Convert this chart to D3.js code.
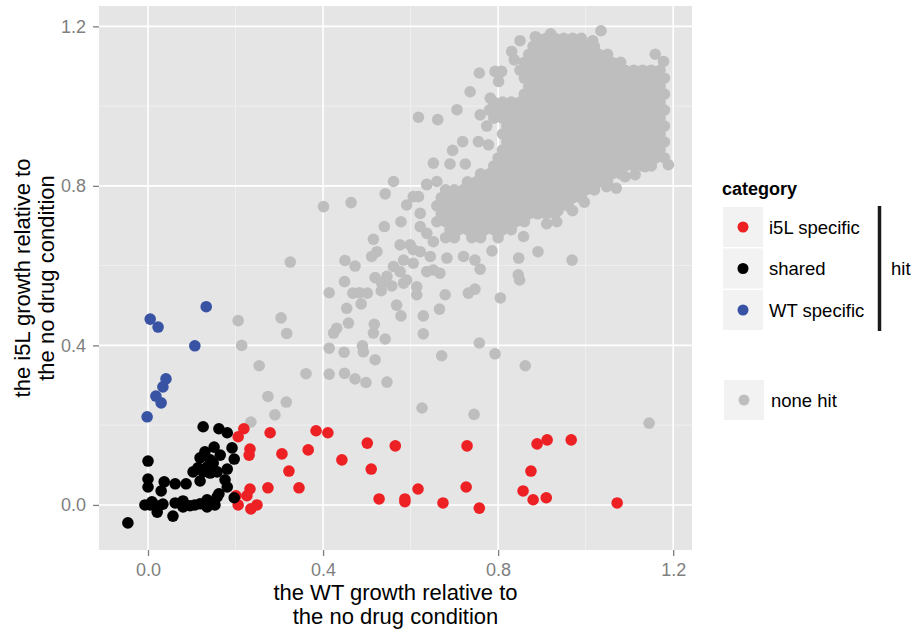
<!DOCTYPE html>
<html><head><meta charset="utf-8">
<script src="https://cdn.jsdelivr.net/npm/d3@7"></script>
<style>
body{margin:0;background:#fff}
text{font-family:"Liberation Sans",Arial,Helvetica,sans-serif}
</style>
</head><body>
<svg id="chart" width="916" height="635"></svg>
<script>
// ---------- data ----------
const xTicks = [0.0, 0.4, 0.8, 1.2];
const yTicks = [0.0, 0.4, 0.8, 1.2];
const xMinor = [0.2, 0.6, 1.0];
const yMinor = [0.2, 0.6, 1.0];
const xTitle = ["the WT growth relative to", "the no drug condition"];
const yTitle = ["the i5L growth relative to", "the no drug condition"];
const legendTitle = "category";
const hitCategories = ["i5L specific", "shared", "WT specific"];
const otherCategory = "none hit";
const groupLabel = "hit";
const catColors = {"i5L specific":"#ED2024","shared":"#000000","WT specific":"#3953A4","none hit":"#BEBEBE"};

// none hit: dense core, one row of readings per y level
const grayRows = [
 [1.17,[0.89,0.91,0.93,0.95,0.97]],
 [1.15,[0.88,0.90,0.92,0.94,0.96,0.98,1.00,1.02]],
 [1.13,[0.87,0.89,0.91,0.93,0.95,0.97,0.99,1.01,1.03,1.05]],
 [1.11,[0.86,0.88,0.90,0.92,0.94,0.96,0.98,1.00,1.02,1.04,1.06,1.08]],
 [1.09,[0.85,0.87,0.89,0.91,0.93,0.95,0.97,0.99,1.01,1.03,1.05,1.07,1.09,1.11,1.13,1.15,1.17]],
 [1.07,[0.86,0.88,0.90,0.92,0.94,0.96,0.98,1.00,1.02,1.04,1.06,1.08,1.10,1.12,1.14,1.16,1.18]],
 [1.05,[0.87,0.89,0.91,0.93,0.95,0.97,0.99,1.01,1.03,1.05,1.07,1.09,1.11,1.13,1.15,1.17]],
 [1.03,[0.86,0.88,0.90,0.92,0.94,0.96,0.98,1.00,1.02,1.04,1.06,1.08,1.10,1.12,1.14,1.16,1.18]],
 [1.01,[0.79,0.81,0.83,0.85,0.87,0.89,0.91,0.93,0.95,0.97,0.99,1.01,1.03,1.05,1.07,1.09,1.11,1.13,1.15,1.17]],
 [0.99,[0.78,0.80,0.82,0.84,0.86,0.88,0.90,0.92,0.94,0.96,0.98,1.00,1.02,1.04,1.06,1.08,1.10,1.12,1.14,1.16,1.18]],
 [0.97,[0.79,0.81,0.83,0.85,0.87,0.89,0.91,0.93,0.95,0.97,0.99,1.01,1.03,1.05,1.07,1.09,1.11,1.13,1.15,1.17]],
 [0.95,[0.82,0.84,0.86,0.88,0.90,0.92,0.94,0.96,0.98,1.00,1.02,1.04,1.06,1.08,1.10,1.12,1.14,1.16,1.18]],
 [0.93,[0.81,0.83,0.85,0.87,0.89,0.91,0.93,0.95,0.97,0.99,1.01,1.03,1.05,1.07,1.09,1.11,1.13,1.15,1.17]],
 [0.91,[0.82,0.84,0.86,0.88,0.90,0.92,0.94,0.96,0.98,1.00,1.02,1.04,1.06,1.08,1.10,1.12,1.14,1.16,1.18]],
 [0.89,[0.81,0.83,0.85,0.87,0.89,0.91,0.93,0.95,0.97,0.99,1.01,1.03,1.05,1.07,1.09,1.11,1.13,1.15,1.17]],
 [0.87,[0.80,0.82,0.84,0.86,0.88,0.90,0.92,0.94,0.96,0.98,1.00,1.02,1.04,1.06,1.08,1.10,1.12,1.14,1.16,1.18]],
 [0.85,[0.79,0.81,0.83,0.85,0.87,0.89,0.91,0.93,0.95,0.97,0.99,1.01,1.03,1.05,1.07,1.09,1.11,1.13,1.15]],
 [0.83,[0.76,0.78,0.80,0.82,0.84,0.86,0.88,0.90,0.92,0.94,0.96,0.98,1.00,1.02,1.04,1.06,1.08]],
 [0.81,[0.73,0.75,0.77,0.79,0.81,0.83,0.85,0.87,0.89,0.91,0.93,0.95,0.97,0.99,1.01,1.03,1.05]],
 [0.79,[0.68,0.70,0.72,0.74,0.76,0.78,0.80,0.82,0.84,0.86,0.88,0.90,0.92,0.94,0.96,0.98,1.00,1.02]],
 [0.77,[0.67,0.69,0.71,0.73,0.75,0.77,0.79,0.81,0.83,0.85,0.87,0.89,0.91,0.93,0.95,0.97,0.99]],
 [0.75,[0.66,0.68,0.70,0.72,0.74,0.76,0.78,0.80,0.82,0.84,0.86,0.88,0.90,0.92,0.94,0.96]],
 [0.73,[0.67,0.69,0.71,0.73,0.75,0.77,0.79,0.81,0.83,0.85,0.87,0.89,0.91,0.93]],
 [0.71,[0.66,0.68,0.70,0.72,0.74,0.76,0.78,0.80,0.82,0.84,0.86]],
 [0.69,[0.69,0.71,0.73,0.75,0.77,0.79,0.81,0.83]],
 [0.67,[0.68,0.70,0.74,0.76,0.80]]
];
// none hit: scattered points
const grayScatter = [
 [0.850,1.164],[0.885,1.174],[0.920,1.181],[0.990,1.170],[1.016,1.164],[1.035,1.189],[1.159,1.130],[1.178,1.112],
 [0.831,1.137],[0.837,1.116],[0.757,1.083],[0.793,1.087],[0.808,1.087],[0.801,1.062],[0.736,1.036],[0.782,1.020],
 [0.759,0.978],[0.706,0.991],[0.618,0.972],[0.662,0.966],[0.774,0.950],[0.719,0.911],[0.755,0.911],[0.778,0.903],
 [0.696,0.889],[0.652,0.857],[0.690,0.855],[0.725,0.855],[1.189,0.853],[1.136,0.848],[1.113,0.828],[1.090,0.823],
 [0.637,0.804],[0.660,0.811],[1.070,0.794],[1.048,0.798],[0.606,0.773],[0.618,0.773],[0.997,0.759],[0.591,0.752],
 [0.970,0.738],[0.937,0.738],[0.934,0.710],[0.911,0.705],[0.622,0.731],[0.622,0.698],[0.637,0.681],[0.652,0.660],
 [0.606,0.640],[0.858,0.673],[0.786,0.637],[0.891,0.635],[0.847,0.619],[0.846,0.577],[0.849,0.564],[0.969,0.614],
 [0.805,0.519],[0.793,0.379],[0.862,0.349],[1.145,0.205],
 [0.401,0.748],[0.464,0.758],[0.542,0.780],[0.561,0.811],[0.637,0.803],[0.325,0.609],[0.450,0.613],[0.473,0.599],
 [0.515,0.666],[0.540,0.698],[0.578,0.710],[0.523,0.635],[0.511,0.623],[0.519,0.570],[0.449,0.560],[0.414,0.532],
 [0.468,0.531],[0.483,0.532],[0.501,0.531],[0.533,0.537],[0.454,0.493],[0.487,0.504],[0.568,0.501],[0.578,0.474],
 [0.629,0.474],[0.666,0.491],[0.679,0.527],[0.614,0.527],[0.732,0.531],[0.747,0.541],[0.757,0.406],[0.629,0.429],
 [0.671,0.374],[0.542,0.416],[0.515,0.431],[0.517,0.453],[0.458,0.456],[0.431,0.443],[0.424,0.431],[0.414,0.393],
 [0.448,0.383],[0.490,0.399],[0.492,0.384],[0.519,0.364],[0.361,0.329],[0.414,0.328],[0.449,0.330],[0.473,0.316],
 [0.498,0.307],[0.546,0.308],[0.206,0.462],[0.304,0.469],[0.317,0.430],[0.214,0.400],[0.254,0.349],[0.274,0.272],
 [0.316,0.258],[0.290,0.226],[0.235,0.208],[0.626,0.243],[0.745,0.227],
 [0.576,0.652],[0.599,0.652],[0.622,0.635],[0.645,0.623],[0.584,0.614],[0.606,0.606],[0.561,0.598],[0.576,0.585],
 [0.546,0.573],[0.591,0.564],[0.614,0.547],[0.637,0.585],[0.652,0.589],[0.667,0.581],[0.683,0.619],[0.721,0.623],
 [0.747,0.614],[0.759,0.591],[0.534,0.556],[0.557,0.549],[0.584,0.556]
];
const redPts = [
 [0.219,0.191],[0.206,0.171],[0.279,0.181],[0.384,0.186],[0.411,0.181],[0.501,0.155],[0.565,0.148],[0.729,0.148],
 [0.889,0.153],[0.912,0.163],[0.967,0.163],[0.233,0.140],[0.231,0.125],[0.306,0.128],[0.366,0.138],[0.443,0.113],
 [0.510,0.090],[0.322,0.085],[0.875,0.085],[0.233,0.040],[0.226,0.023],[0.274,0.043],[0.345,0.043],[0.528,0.015],
 [0.587,0.015],[0.587,0.008],[0.617,0.040],[0.674,0.005],[0.727,0.045],[0.757,-0.008],[0.857,0.035],[0.880,0.013],
 [0.910,0.018],[1.072,0.005],[0.206,0.000],[0.235,-0.010],[0.249,0.000],[0.201,0.023]
];
const blackPts = [
 [0.126,0.196],[0.162,0.191],[0.181,0.181],[0.151,0.145],[0.130,0.133],[0.165,0.125],[0.192,0.143],[0.197,0.115],
 [0.119,0.118],[0.142,0.113],[0.114,0.093],[0.135,0.095],[0.149,0.105],[0.158,0.083],[0.181,0.090],[0.103,0.083],
 [0.126,0.083],[0.119,0.060],[0.142,0.080],[0.176,0.063],[0.181,0.045],[0.162,0.028],[0.197,0.018],[0.000,0.110],
 [0.000,0.065],[0.000,0.045],[0.037,0.058],[0.030,0.035],[0.062,0.053],[0.087,0.053],[-0.007,0.000],[0.009,0.008],
 [0.023,-0.003],[0.021,-0.018],[0.062,0.005],[0.080,0.010],[0.080,-0.005],[0.107,0.000],[0.135,0.013],[0.135,-0.005],
 [0.153,0.000],[0.158,0.020],[0.057,-0.028],[-0.046,-0.045],[0.005,0.000],[0.034,0.002],[0.096,-0.002],[0.119,0.003]
];
const bluePts = [
 [0.133,0.497],[0.005,0.466],[0.023,0.446],[0.107,0.399],[0.041,0.316],[0.034,0.296],[0.018,0.273],[0.030,0.256],[-0.002,0.221]
];

// ---------- chart ----------
const svg = d3.select("#chart");
const P = {l:99, r:692, t:6, b:550};
const x = d3.scaleLinear().domain([-0.112, 1.243]).range([P.l, P.r]);
const y = d3.scaleLinear().domain([-0.113, 1.251]).range([P.b, P.t]);
const R = 5.8;

svg.append("rect").attr("x",P.l).attr("y",P.t).attr("width",P.r-P.l).attr("height",P.b-P.t).attr("fill","#E5E5E5");

const grid = svg.append("g");
grid.selectAll(".vmin").data(xMinor).join("line")
  .attr("x1",d=>x(d)).attr("x2",d=>x(d)).attr("y1",P.t).attr("y2",P.b)
  .attr("stroke","#F2F2F2").attr("stroke-width",0.8);
grid.selectAll(".hmin").data(yMinor).join("line")
  .attr("y1",d=>y(d)).attr("y2",d=>y(d)).attr("x1",P.l).attr("x2",P.r)
  .attr("stroke","#F2F2F2").attr("stroke-width",0.8);
grid.selectAll(".vmaj").data(xTicks).join("line")
  .attr("x1",d=>x(d)).attr("x2",d=>x(d)).attr("y1",P.t).attr("y2",P.b)
  .attr("stroke","#FFFFFF").attr("stroke-width",1.6);
grid.selectAll(".hmaj").data(yTicks).join("line")
  .attr("y1",d=>y(d)).attr("y2",d=>y(d)).attr("x1",P.l).attr("x2",P.r)
  .attr("stroke","#FFFFFF").attr("stroke-width",1.6);

const grayPts = [];
grayRows.forEach(([yy, xs]) => xs.forEach(xx => grayPts.push([xx, yy])));
grayScatter.forEach(p => grayPts.push(p));

const pts = svg.append("g");
function drawPts(data, col){
  pts.append("g").selectAll("circle").data(data).join("circle")
    .attr("cx",d=>x(d[0])).attr("cy",d=>y(d[1])).attr("r",R).attr("fill",col);
}
drawPts(grayPts, catColors["none hit"]);
drawPts(redPts, catColors["i5L specific"]);
drawPts(blackPts, catColors["shared"]);
drawPts(bluePts, catColors["WT specific"]);

// axes
const fmt = d3.format(".1f");
const gx = svg.append("g").attr("transform",`translate(0,${P.b})`)
  .call(d3.axisBottom(x).tickValues(xTicks).tickFormat(fmt).tickSize(6).tickPadding(7));
const gy = svg.append("g").attr("transform",`translate(${P.l},0)`)
  .call(d3.axisLeft(y).tickValues(yTicks).tickFormat(fmt).tickSize(6).tickPadding(7));
[gx,gy].forEach(g=>{
  g.select(".domain").remove();
  g.selectAll(".tick line").attr("stroke","#7F7F7F").attr("stroke-width",1.3);
  g.selectAll(".tick text").attr("fill","#7F7F7F").style("font-size","18px")
   .style("font-family","'Liberation Sans',Arial,sans-serif");
});

// axis titles
const xt = svg.append("text").attr("text-anchor","middle").attr("fill","#000").style("font-size","22px");
xTitle.forEach((t,i)=> xt.append("tspan").attr("x",(P.l+P.r)/2).attr("y",600+i*24).text(t));
const ytg = svg.append("g").attr("transform",`translate(0,${(P.t+P.b)/2}) rotate(-90)`);
yTitle.forEach((t,i)=> ytg.append("text").attr("text-anchor","middle").attr("x",0).attr("y",30+i*24)
  .attr("fill","#000").style("font-size","22px").text(t));

// legend
const L = svg.append("g");
L.append("text").attr("x",722).attr("y",195).style("font-size","18px").style("font-weight","bold").text(legendTitle);
const keyY = [207, 248.5, 290];
hitCategories.forEach((c,i)=>{
  L.append("rect").attr("x",723).attr("y",keyY[i]).attr("width",40).attr("height",40).attr("fill","#F2F2F2");
  L.append("circle").attr("cx",743).attr("cy",keyY[i]+20).attr("r",5.5).attr("fill",catColors[c]);
  L.append("text").attr("x",769).attr("y",keyY[i]+20).attr("dy","0.36em").style("font-size","18.5px").text(c);
});
L.append("line").attr("x1",879.5).attr("x2",879.5).attr("y1",206).attr("y2",331)
  .attr("stroke","#1A1A1A").attr("stroke-width",3.5);
L.append("text").attr("x",891).attr("y",268.5).attr("dy","0.36em").style("font-size","18.5px").text(groupLabel);
L.append("rect").attr("x",724).attr("y",380).attr("width",40).attr("height",40).attr("fill","#F2F2F2");
L.append("circle").attr("cx",744).attr("cy",400).attr("r",5.5).attr("fill",catColors[otherCategory]);
L.append("text").attr("x",771).attr("y",400).attr("dy","0.36em").style("font-size","18.5px").text(otherCategory);
</script>
</body></html>
